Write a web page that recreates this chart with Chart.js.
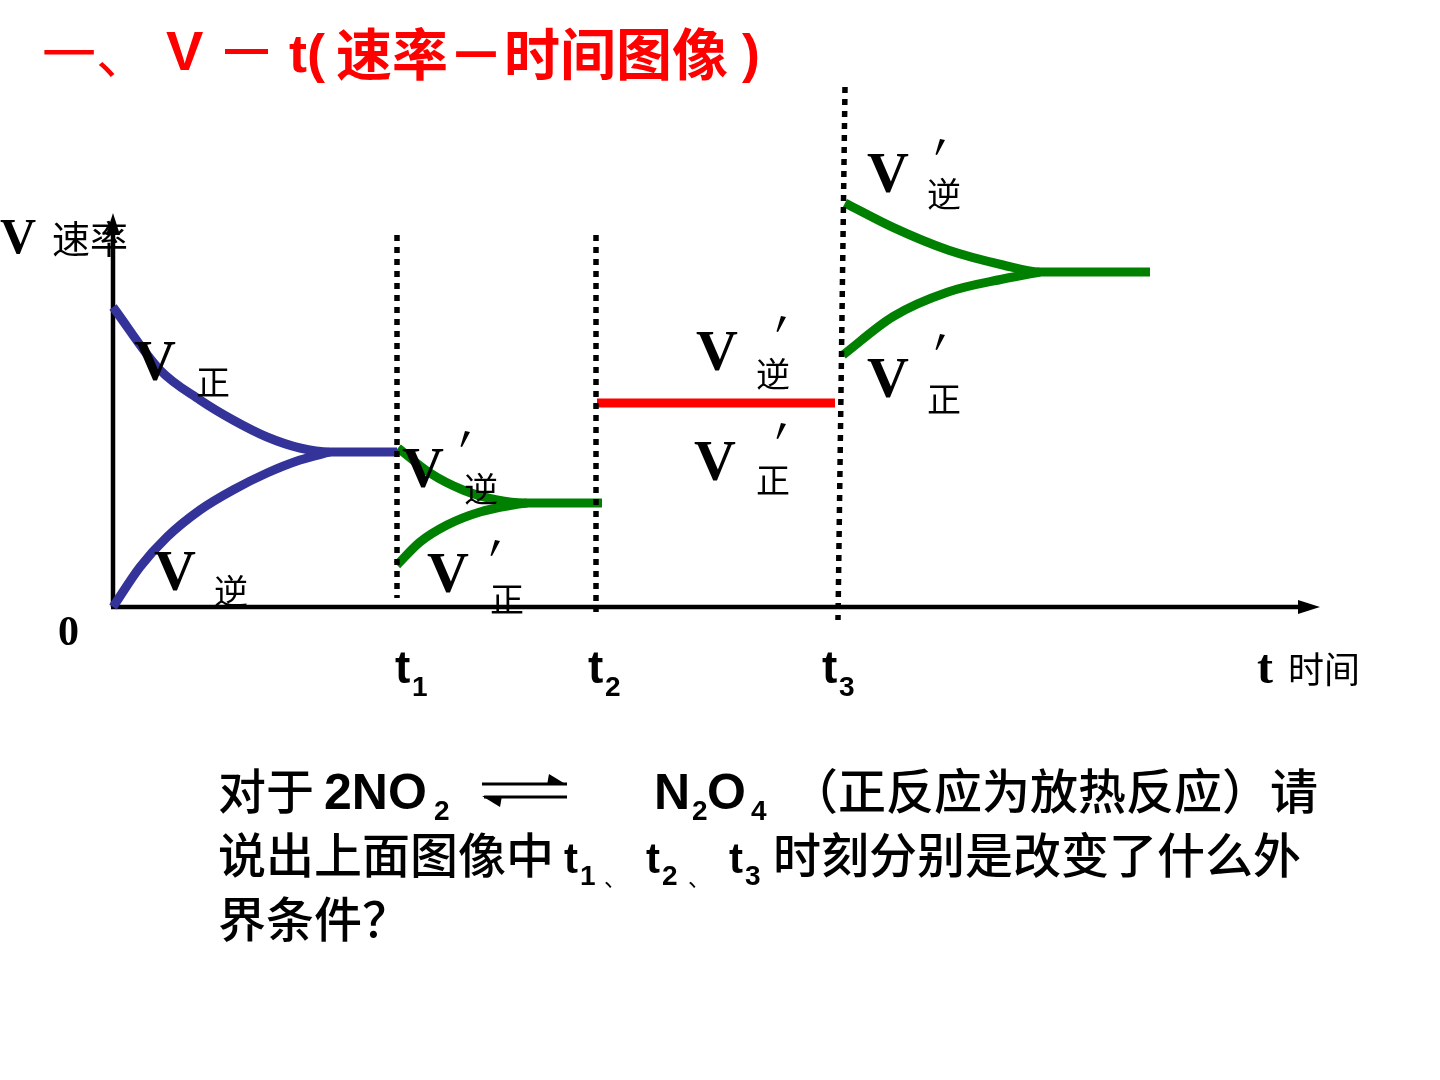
<!DOCTYPE html>
<html><head><meta charset="utf-8">
<script src="https://cdn.jsdelivr.net/npm/chart.js@4/dist/chart.umd.min.js"></script>
<style>html,body{margin:0;padding:0;background:#fff;}canvas{display:block;}</style>
</head><body>
<canvas id="c" width="1440" height="1080"></canvas>
<script>
// ---- data (time units on x, rate units on y) ----
const fwd0X = [0, 4.7, 8.7, 12, 15.4, 18.7, 21.7, 28.4];
const fwd0Y = [75, 59.25, 51.75, 46.75, 42.5, 39.75, 38.75, 38.75];
const rev0X = [0, 2.7, 5.4, 8.7, 12, 15.4, 18.7, 21.7];
const rev0Y = [0, 10, 17.5, 24.25, 29.25, 33.5, 36.75, 38.75];

const rev1X = [28.5, 31.7, 35, 38.4, 41.2, 48.9];
const rev1Y = [39.75, 33.5, 29.25, 26.75, 26, 26];
const fwd1X = [28.4, 30.7, 33.4, 36.7, 40, 41.4];
const fwd1Y = [10.5, 16.25, 20.5, 23.75, 25.5, 26];

const eq2X = [48.4, 72.2];
const eq2Y = [51, 51];

const rev3X = [73.2, 78, 83.5, 89, 92.7, 103.7];
const rev3Y = [101, 94.9, 89.25, 85.5, 83.75, 83.75];
const fwd3X = [73, 78, 83.5, 89, 92.7];
const fwd3Y = [63, 72.6, 78.75, 82, 83.75];

const markX = [[28.4, 28.4], [48.3, 48.3], [73.2, 72.5]];
const markY = [[93, 2.25], [93, -1.25], [130, -3.25]];
const markLabels = ['1', '2', '3'];

const X_MAX = 120.7, Y_MAX = 130;

function pts(xs, ys){ return xs.map((x,i)=>({x:x, y:ys[i]})); }

const BLUE = '#333399', GREEN = '#008000', RED = '#ff0000';
function curve(xs, ys, color){
  return {data: pts(xs, ys), borderColor: color, borderWidth: 9, pointRadius: 0,
          cubicInterpolationMode: 'monotone', fill: false, borderCapStyle: 'butt', clip: false};
}
function dotted(i){
  return {data: pts(markX[i], markY[i]), borderColor: '#000', borderWidth: 5.5, pointRadius: 0,
          borderDash: [6, 6], borderCapStyle: 'butt', fill: false, tension: 0, clip: false};
}

const CJK = '"Noto Sans CJK SC"';
const SERIF = '"Liberation Serif", "DejaVu Serif", serif';
const SANS = '"Liberation Sans", Arial, sans-serif';

function txt(ctx, s, x, y, font, color){
  ctx.font = font; ctx.fillStyle = color || '#000'; ctx.fillText(s, x, y);
}
function prime(ctx, x, y){
  ctx.beginPath();
  ctx.moveTo(x + 5, y); ctx.lineTo(x + 10, y + 1);
  ctx.lineTo(x + 2, y + 16); ctx.lineTo(x + 0.5, y + 15.5);
  ctx.closePath(); ctx.fillStyle = '#000'; ctx.fill();
}

const decor = {
  id: 'decor',
  beforeDatasetsDraw(chart){
    const ctx = chart.ctx, xs = chart.scales.x, ys = chart.scales.y;
    const x0 = xs.getPixelForValue(0), y0 = ys.getPixelForValue(0);
    const yTop = ys.getPixelForValue(98.5), xEnd = xs.getPixelForValue(X_MAX);
    ctx.save();
    ctx.strokeStyle = '#000'; ctx.fillStyle = '#000'; ctx.lineWidth = 4.5;
    ctx.beginPath(); ctx.moveTo(x0, y0); ctx.lineTo(x0, yTop + 14); ctx.stroke();
    ctx.beginPath(); ctx.moveTo(x0 - 2, y0); ctx.lineTo(xEnd - 16, y0); ctx.stroke();
    ctx.beginPath(); ctx.moveTo(x0, yTop); ctx.lineTo(x0 - 7, yTop + 22); ctx.lineTo(x0 + 7, yTop + 22); ctx.closePath(); ctx.fill();
    ctx.beginPath(); ctx.moveTo(xEnd, y0); ctx.lineTo(xEnd - 22, y0 - 7); ctx.lineTo(xEnd - 22, y0 + 7); ctx.closePath(); ctx.fill();
    ctx.restore();
  },
  afterDatasetsDraw(chart){
    const ctx = chart.ctx, xs = chart.scales.x;
    ctx.save();
    ctx.textBaseline = 'alphabetic';
    // title
    const R = RED;
    txt(ctx, '一、', 42, 74, '54px ' + CJK, R);
    txt(ctx, 'V', 166, 70, 'bold 56px ' + SANS, R);
    ctx.fillStyle = R; ctx.fillRect(225, 49, 43, 5);
    txt(ctx, 't(', 289, 72, 'bold 54px ' + SANS, R);
    txt(ctx, '速率－时间图像', 336, 75, 'bold 56px ' + CJK, R);
    txt(ctx, ')', 742, 72, 'bold 54px ' + SANS, R);

    // axis labels
    txt(ctx, 'V', 0, 253, 'bold 50px ' + SERIF);
    txt(ctx, '速率', 52, 253, '38px ' + CJK);
    txt(ctx, '0', 58, 645, 'bold 42px ' + SERIF);
    txt(ctx, 't', 1257, 683, 'bold 48px ' + SERIF);
    txt(ctx, '时间', 1288, 683, '36px ' + CJK);
    const labelShift = [-2, -8, -16];
    markX.forEach((mx, i) => {
      const px = xs.getPixelForValue(Math.min(mx[0], mx[1])) + labelShift[i];
      txt(ctx, 't', px, 683, 'bold 46px ' + SANS);
      txt(ctx, markLabels[i], px + 17, 696, 'bold 28px ' + SANS);
    });

    // curve labels
    function vlab(vx, vy, sub, sx, sy, pp){
      txt(ctx, 'V', vx, vy, 'bold 58px ' + SERIF);
      txt(ctx, sub, sx, sy, '34px ' + CJK);
      if (pp) prime(ctx, pp[0], pp[1]);
    }
    vlab(134, 380, '正', 196, 395);
    vlab(154, 590, '逆', 214, 604);
    vlab(402, 487, '逆', 464, 502, [460, 431]);
    vlab(427, 592, '正', 490, 612, [490, 540]);
    vlab(696, 370, '逆', 756, 387, [776, 316]);
    vlab(694, 480, '正', 756, 493, [776, 423]);
    vlab(867, 192, '逆', 927, 207, [935, 139]);
    vlab(867, 397, '正', 927, 412, [935, 334]);

    // question text
    const F = '500 48px ' + CJK, FL = 'bold 50px ' + SANS, FT = 'bold 42px ' + SANS, FS = 'bold 28px ' + SANS;
    txt(ctx, '对于', 218, 809, F);
    txt(ctx, '2NO', 324, 809, FL);
    txt(ctx, '2', 434, 820, FS);
    ctx.strokeStyle = '#000'; ctx.lineWidth = 3; ctx.fillStyle = '#000';
    ctx.beginPath(); ctx.moveTo(482, 784); ctx.lineTo(567, 784); ctx.stroke();
    ctx.beginPath(); ctx.moveTo(567, 785); ctx.lineTo(549, 774); ctx.lineTo(547, 785); ctx.closePath(); ctx.fill();
    ctx.beginPath(); ctx.moveTo(484, 797); ctx.lineTo(567, 797); ctx.stroke();
    ctx.beginPath(); ctx.moveTo(482, 796); ctx.lineTo(500, 807); ctx.lineTo(502, 796); ctx.closePath(); ctx.fill();
    txt(ctx, 'N', 654, 809, FL);
    txt(ctx, '2', 692, 820, FS);
    txt(ctx, 'O', 707, 809, FL);
    txt(ctx, '4', 751, 820, FS);
    txt(ctx, '（正反应为放热反应）请', 790, 809, F);

    txt(ctx, '说出上面图像中', 218, 873, F);
    txt(ctx, 't', 564, 873, FT);
    txt(ctx, '1', 580, 885, FS);
    txt(ctx, '、', 604, 886, '22px ' + CJK);
    txt(ctx, 't', 646, 873, FT);
    txt(ctx, '2', 662, 885, FS);
    txt(ctx, '、', 688, 886, '22px ' + CJK);
    txt(ctx, 't', 729, 873, FT);
    txt(ctx, '3', 745, 885, FS);
    txt(ctx, '时刻分别是改变了什么外', 773, 873, F);

    txt(ctx, '界条件？', 218, 937, F);
    ctx.restore();
  }
};

new Chart(document.getElementById('c'), {
  type: 'line',
  data: {
    datasets: [
      dotted(0), dotted(1), dotted(2),
      curve(fwd0X, fwd0Y, BLUE), curve(rev0X, rev0Y, BLUE),
      curve(rev1X, rev1Y, GREEN), curve(fwd1X, fwd1Y, GREEN),
      curve(eq2X, eq2Y, RED),
      curve(rev3X, rev3Y, GREEN), curve(fwd3X, fwd3Y, GREEN)
    ]
  },
  options: {
    responsive: false, animation: false, devicePixelRatio: 1,
    layout: {padding: {left: 113, right: 120, top: 87, bottom: 473}},
    plugins: {legend: {display: false}, tooltip: {enabled: false}},
    scales: {
      x: {type: 'linear', min: 0, max: X_MAX, display: false},
      y: {type: 'linear', min: 0, max: Y_MAX, display: false}
    }
  },
  plugins: [decor]
});
</script>
</body></html>
